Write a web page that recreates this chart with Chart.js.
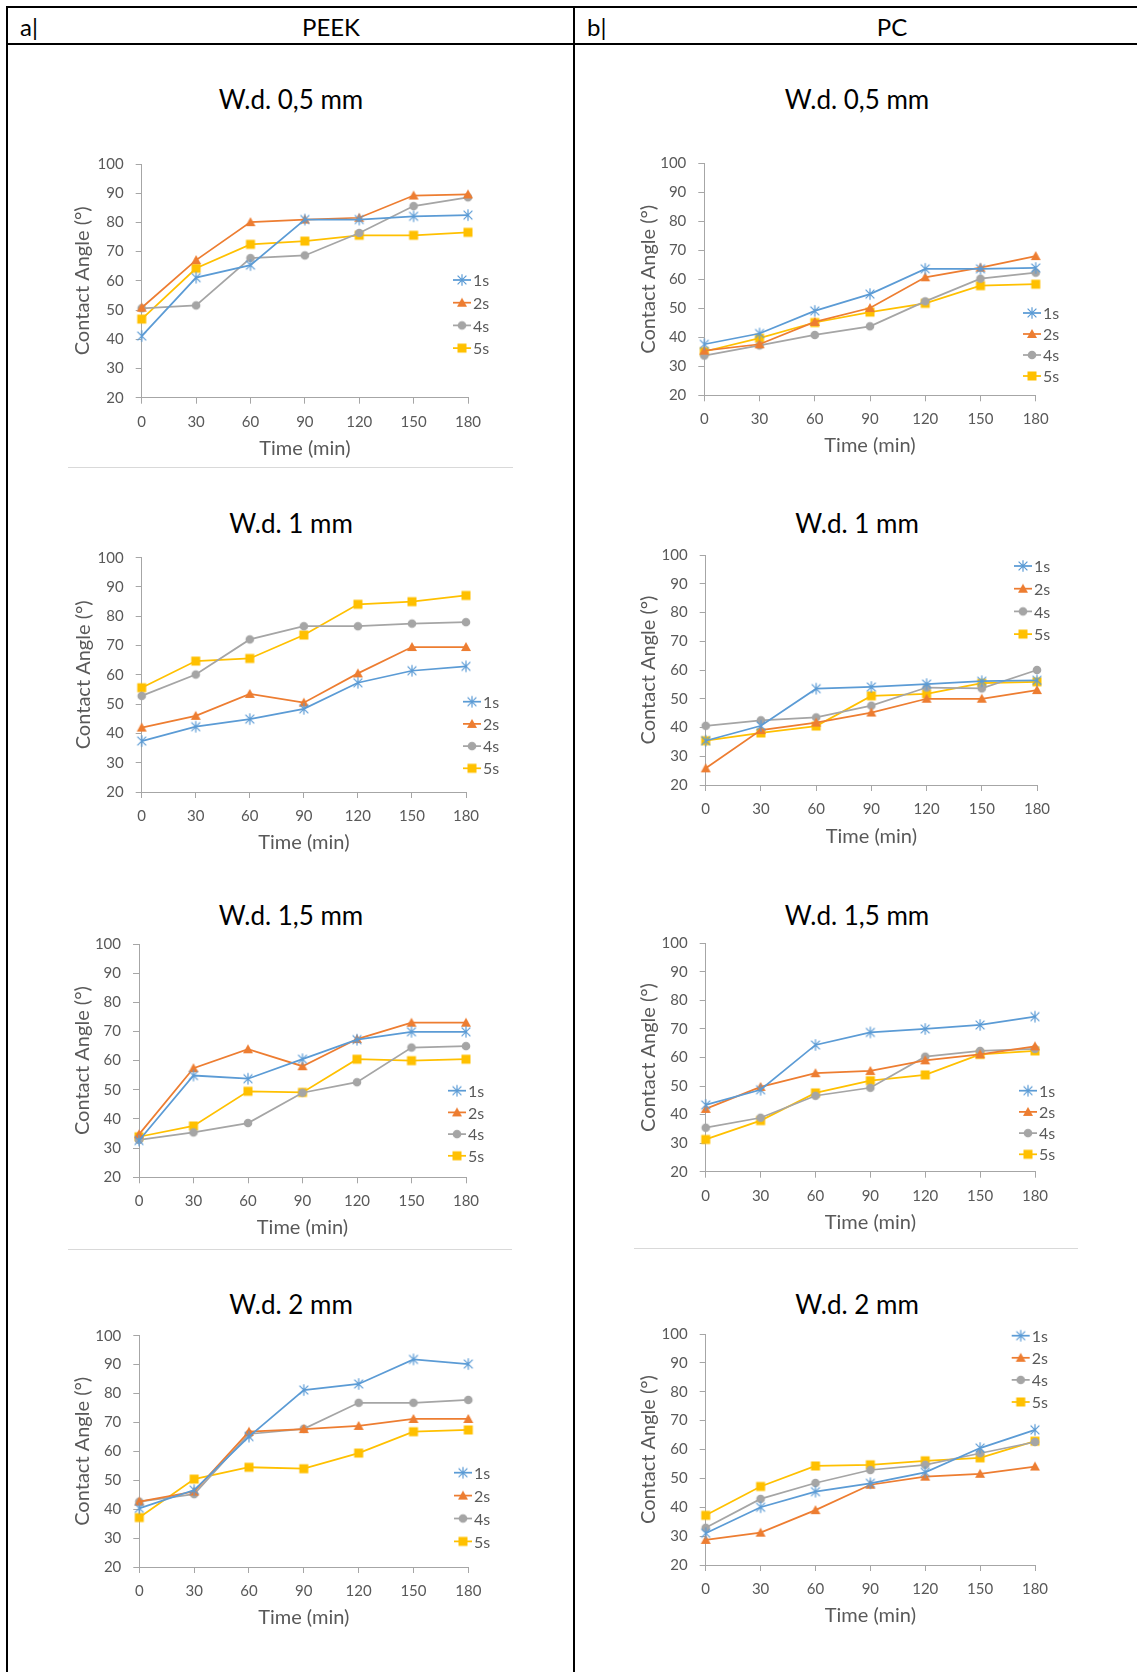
<!DOCTYPE html>
<html>
<head>
<meta charset="utf-8">
<title>Contact angle over time – PEEK and PC</title>
<script src="https://cdn.jsdelivr.net/npm/chart.js@4.4.0/dist/chart.umd.min.js"></script>
<style>
  html, body { margin: 0; padding: 0; background: #fff; }
  #page { position: relative; width: 1137px; height: 1672px; overflow: hidden; font-family: Lato, "Open Sans", sans-serif; }
  .rule { position: absolute; background: #000; }
  .sep { position: absolute; height: 1px; background: #d9d9d9; }
  .head { position: absolute; font-size: 24px; color: #000; transform: translateY(-50%); white-space: nowrap; }
  .headc { position: absolute; font-size: 24px; color: #000; transform: translate(-50%, -50%); white-space: nowrap; }
  .ttl { position: absolute; font-size: 26px; color: #000; transform: translate(-50%, -50%); white-space: nowrap; }
  canvas { position: absolute; }
</style>
</head>
<body>
<div id="page">
  <!-- table frame -->
  <div class="rule" style="left:6px;top:6px;width:1131px;height:2px"></div>
  <div class="rule" style="left:6px;top:43px;width:1131px;height:2px"></div>
  <div class="rule" style="left:6px;top:6px;width:2px;height:1666px"></div>
  <div class="rule" style="left:573px;top:6px;width:2px;height:1666px"></div>

  <div class="head" style="left:20px;top:26px">a|</div>
  <div class="headc" style="left:331px;top:26px">PEEK</div>
  <div class="head" style="left:587px;top:26px">b|</div>
  <div class="headc" style="left:892px;top:26px">PC</div>

  <div class="ttl" style="left:291px;top:99px">W.d. 0,5 mm</div>
  <div class="ttl" style="left:857px;top:99px">W.d. 0,5 mm</div>
  <div class="ttl" style="left:291px;top:523px">W.d. 1 mm</div>
  <div class="ttl" style="left:857px;top:523px">W.d. 1 mm</div>
  <div class="ttl" style="left:291px;top:915px">W.d. 1,5 mm</div>
  <div class="ttl" style="left:857px;top:915px">W.d. 1,5 mm</div>
  <div class="ttl" style="left:291px;top:1304px">W.d. 2 mm</div>
  <div class="ttl" style="left:857px;top:1304px">W.d. 2 mm</div>

  <div class="sep" style="left:68px;top:467px;width:445px"></div>
  <div class="sep" style="left:68px;top:1249px;width:444px"></div>
  <div class="sep" style="left:634px;top:1248px;width:444px"></div>
</div>

<script>
// Sampling times (min) and immersion-time series
const times = ['0', '30', '60', '90', '120', '150', '180'];
const seriesNames = ['1s', '2s', '4s', '5s'];
const yTicksMin = 20;
const yTicksMax = 100;

// Contact angle (°), one row per series: 1s, 2s, 4s, 5s
const peekWd05 = [
  [41.1, 61.1, 65.4, 81.0, 81.0, 82.1, 82.5],
  [50.8, 67.1, 80.1, 81.0, 81.6, 89.2, 89.6],
  [50.6, 51.6, 67.8, 68.7, 76.4, 85.6, 88.6],
  [46.9, 64.3, 72.5, 73.6, 75.6, 75.6, 76.6]
];
const pcWd05 = [
  [37.6, 41.3, 49.1, 54.9, 63.6, 63.6, 63.9],
  [35.4, 37.6, 45.3, 50.1, 60.7, 64.0, 68.0],
  [33.7, 37.2, 40.8, 43.8, 52.4, 60.2, 62.3],
  [35.1, 39.7, 45.1, 48.7, 51.7, 57.8, 58.3]
];
const peekWd1 = [
  [37.4, 42.3, 44.9, 48.4, 57.3, 61.4, 62.9],
  [42.0, 46.0, 53.5, 50.5, 60.5, 69.5, 69.5],
  [52.8, 60.1, 72.1, 76.6, 76.6, 77.5, 78.0],
  [55.6, 64.7, 65.6, 73.6, 84.1, 85.0, 87.1]
];
const pcWd1 = [
  [35.4, 40.6, 53.5, 54.1, 55.1, 56.1, 56.4],
  [25.8, 39.1, 41.7, 45.2, 50.0, 50.0, 53.0],
  [40.6, 42.5, 43.5, 47.6, 53.9, 53.6, 60.0],
  [35.4, 38.1, 40.5, 51.0, 51.7, 55.4, 55.9]
];
const peekWd15 = [
  [32.6, 54.9, 53.8, 60.5, 67.2, 69.9, 69.9],
  [34.7, 57.4, 63.9, 58.1, 67.4, 73.0, 73.0],
  [32.8, 35.4, 38.6, 49.0, 52.6, 64.5, 65.0],
  [33.9, 37.6, 49.5, 49.1, 60.5, 60.0, 60.5]
];
const pcWd15 = [
  [43.4, 48.7, 64.4, 68.8, 70.0, 71.4, 74.3],
  [42.0, 49.7, 54.5, 55.3, 59.0, 61.1, 63.9],
  [35.4, 38.9, 46.6, 49.4, 60.3, 62.3, 63.0],
  [31.3, 37.9, 47.6, 51.9, 53.9, 61.1, 62.3]
];
const peekWd2 = [
  [40.3, 46.6, 65.1, 81.2, 83.3, 91.8, 90.2],
  [42.6, 46.1, 66.8, 67.7, 68.8, 71.2, 71.2],
  [42.6, 45.2, 66.0, 67.8, 76.8, 76.8, 77.8],
  [37.1, 50.4, 54.5, 54.0, 59.4, 66.8, 67.4]
];
const pcWd2 = [
  [31.0, 40.0, 45.4, 48.3, 52.1, 60.5, 66.8],
  [28.7, 31.2, 39.0, 47.8, 50.6, 51.6, 54.1],
  [32.9, 42.9, 48.4, 52.9, 54.7, 58.7, 62.6],
  [37.2, 47.2, 54.3, 54.7, 56.1, 57.1, 62.9]
];

// Series styling
const seriesColors = ['#5B9BD5', '#ED7D31', '#A5A5A5', '#FFC000'];
const seriesMarkers = ['star', 'triangle', 'circle', 'square'];
const FONT = 'Lato';
const TEXT = '#595959';
const AXIS = '#a6a6a6';

function makeMarker(kind, color) {
  const s = 14, m = s / 2;
  const c = document.createElement('canvas');
  c.width = s; c.height = s;
  const g = c.getContext('2d');
  g.fillStyle = color; g.strokeStyle = color;
  if (kind === 'star') {
    g.lineWidth = 1.2;
    g.beginPath();
    g.moveTo(m - 4.4, m - 4.4); g.lineTo(m + 4.4, m + 4.4);
    g.moveTo(m - 4.4, m + 4.4); g.lineTo(m + 4.4, m - 4.4);
    g.moveTo(m, m - 5.8); g.lineTo(m, m + 5.8);
    g.stroke();
  } else if (kind === 'triangle') {
    g.beginPath();
    g.moveTo(m, m - 5); g.lineTo(m + 5, m + 4); g.lineTo(m - 5, m + 4);
    g.closePath(); g.fill();
  } else if (kind === 'circle') {
    g.beginPath(); g.arc(m, m, 4.3, 0, Math.PI * 2); g.fill();
  } else {
    g.fillRect(m - 4.5, m - 4.5, 9, 9);
  }
  return c;
}

// Legend drawn beside the plot, one row per series
const sideLegend = {
  id: 'sideLegend',
  afterDraw(chart, args, opts) {
    const ctx = chart.ctx;
    chart.data.datasets.forEach((ds, i) => {
      const y = opts.y + i * opts.gap;
      ctx.save();
      ctx.strokeStyle = ds.borderColor;
      ctx.lineWidth = ds.borderWidth;
      ctx.beginPath(); ctx.moveTo(opts.x, y); ctx.lineTo(opts.x + 18, y); ctx.stroke();
      const img = ds.pointStyle;
      ctx.drawImage(img, opts.x + 9 - img.width / 2, y - img.height / 2);
      ctx.fillStyle = TEXT;
      ctx.font = '16px ' + FONT;
      ctx.textBaseline = 'middle';
      ctx.textAlign = 'left';
      ctx.fillText(ds.label, opts.x + 20, y + 1);
      ctx.restore();
    });
  }
};

// Panel layout: plot box [left, top, right, bottom], axis-title centres, legend anchor
const panels = [
  { values: peekWd05, plot: [141.7, 164, 468, 397.7],   yTitleX: 82.7, xTitleY: 449,    legend: [453, 280, 22.7] },
  { values: pcWd05,   plot: [704.3, 163.3, 1035.7, 395.3], yTitleX: 649, xTitleY: 446,  legend: [1023, 313, 21] },
  { values: peekWd1,  plot: [141.7, 557.7, 466, 792],   yTitleX: 84,   xTitleY: 843.3,  legend: [463, 701.7, 22.2] },
  { values: pcWd1,    plot: [705.7, 555, 1037, 785],    yTitleX: 649,  xTitleY: 836.7,  legend: [1014, 566, 22.7] },
  { values: peekWd15, plot: [139, 944, 466, 1177.3],    yTitleX: 82.7, xTitleY: 1228.3, legend: [448, 1090.7, 21.7] },
  { values: pcWd15,   plot: [705.7, 943.3, 1035, 1171.7], yTitleX: 649, xTitleY: 1223.3, legend: [1019, 1090.7, 21.2] },
  { values: peekWd2,  plot: [139.3, 1335.7, 468.3, 1567], yTitleX: 82.7, xTitleY: 1618.3, legend: [454, 1472.7, 22.9] },
  { values: pcWd2,    plot: [705.7, 1334, 1035, 1565],  yTitleX: 649,  xTitleY: 1615.7, legend: [1011.7, 1335.7, 22.1] }
];

function axisCommon() {
  return {
    grid: { display: true, drawOnChartArea: false, drawTicks: true, tickLength: 6, color: AXIS, lineWidth: 1 },
    border: { display: true, color: AXIS, width: 1 }
  };
}

function buildPanel(p) {
  const [L, T, R, B] = p.plot;
  const cl = Math.round(p.yTitleX - 12);
  const ct = Math.round(T - 26);
  const w = Math.round(R + 70 - cl);
  const h = Math.round(p.xTitleY + 12 - ct);
  const yw = L - cl;
  const padTop = T - ct;
  const padRight = w - (R - cl);
  const xh = ct + h - B;

  const cv = document.createElement('canvas');
  cv.width = w; cv.height = h;
  cv.style.left = cl + 'px'; cv.style.top = ct + 'px';
  cv.style.width = w + 'px'; cv.style.height = h + 'px';
  document.getElementById('page').appendChild(cv);

  const datasets = p.values.map((vals, i) => ({
    label: seriesNames[i],
    data: vals,
    borderColor: seriesColors[i],
    backgroundColor: seriesColors[i],
    borderWidth: 1.75,
    tension: 0,
    pointStyle: makeMarker(seriesMarkers[i], seriesColors[i]),
    pointRadius: 5,
    clip: false
  }));

  new Chart(cv, {
    type: 'line',
    data: { labels: times, datasets },
    plugins: [sideLegend],
    options: {
      responsive: false,
      animation: false,
      devicePixelRatio: 1,
      layout: { padding: { top: padTop, right: padRight, left: 0, bottom: 0 } },
      plugins: {
        legend: { display: false },
        tooltip: { enabled: false },
        sideLegend: { x: p.legend[0] - cl, y: p.legend[1] - ct, gap: p.legend[2] }
      },
      scales: {
        x: Object.assign(axisCommon(), {
          type: 'category',
          offset: false,
          ticks: { color: TEXT, font: { family: FONT, size: 15 }, padding: 9, maxRotation: 0, autoSkip: false },
          title: { display: true, text: 'Time (min)', color: TEXT, font: { family: FONT, size: 20, lineHeight: 1.2 }, padding: 0 },
          afterFit(s) { s.height = xh; }
        }),
        y: Object.assign(axisCommon(), {
          type: 'linear',
          min: yTicksMin,
          max: yTicksMax,
          ticks: { stepSize: 10, color: TEXT, font: { family: FONT, size: 15 }, padding: 12 },
          title: { display: true, text: 'Contact Angle (°)', color: TEXT, font: { family: FONT, size: 20, lineHeight: 1.2 }, padding: 0 },
          afterFit(s) { s.width = yw; }
        })
      }
    }
  });
}

const ready = (document.fonts && document.fonts.load)
  ? Promise.all([document.fonts.load('15px Lato'), document.fonts.load('20px Lato')]).catch(() => {})
  : Promise.resolve();
ready.then(() => panels.forEach(buildPanel));
</script>
</body>
</html>
